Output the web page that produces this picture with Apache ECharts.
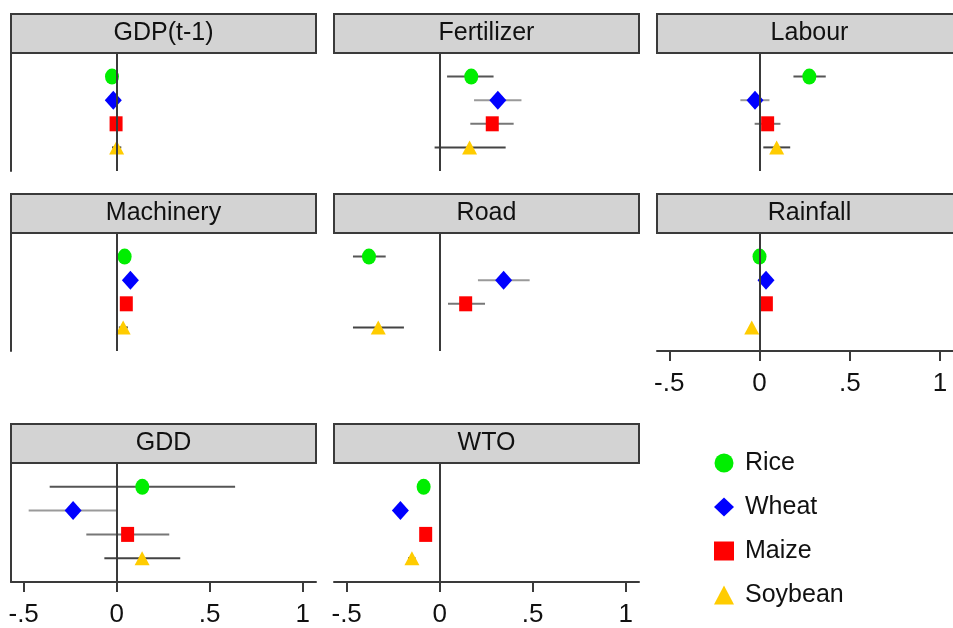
<!DOCTYPE html>
<html>
<head>
<meta charset="utf-8">
<title>Coefficient plot</title>
<script src="https://cdn.jsdelivr.net/npm/echarts@6/dist/echarts.min.js"></script>
<style>html,body{margin:0;background:#fff}#main{width:953px;height:628px}</style>
</head>
<body>
<div id="main"></div>
<script>
// panels in reading order, 3 per row
var panels = ['GDP(t-1)', 'Fertilizer', 'Labour', 'Machinery', 'Road', 'Rainfall', 'GDD', 'WTO'];
var crops = ['Rice', 'Wheat', 'Maize', 'Soybean'];

// point estimates and 95% bounds, one value per panel
var rice      = [-0.025, 0.17,  0.276,  0.043, -0.38,  0.0,    0.138, -0.086];
var riceLo    = [-0.035, 0.04,  0.188,  0.035, -0.466,-0.01,  -0.36,  -0.095];
var riceHi    = [-0.015, 0.29,  0.367,  0.05,  -0.29,  0.01,   0.637, -0.077];
var wheat     = [-0.018, 0.313,-0.025,  0.074,  0.344, 0.036, -0.234, -0.211];
var wheatLo   = [-0.03,  0.185,-0.106,  0.065,  0.206, 0.03,  -0.473, -0.22];
var wheatHi   = [-0.006, 0.44,  0.055,  0.083,  0.484, 0.045,  0.0,   -0.2];
var maize     = [-0.003, 0.283, 0.045,  0.052,  0.14,  0.038,  0.059, -0.075];
var maizeLo   = [-0.012, 0.165,-0.027,  0.045,  0.045, 0.03,  -0.163, -0.085];
var maizeHi   = [ 0.006, 0.398, 0.116,  0.06,   0.244, 0.046,  0.283, -0.065];
var soybean   = [ 0.0,   0.161, 0.095,  0.035, -0.33, -0.043,  0.137, -0.149];
var soybeanLo = [-0.025,-0.027, 0.021,  0.012, -0.466,-0.05,  -0.066, -0.17];
var soybeanHi = [ 0.025, 0.355, 0.17,   0.06,  -0.192,-0.036,  0.342, -0.13];

var xTicks = [-0.5, 0, 0.5, 1];

var est = [rice, wheat, maize, soybean];
var lo = [riceLo, wheatLo, maizeLo, soybeanLo];
var hi = [riceHi, wheatHi, maizeHi, soybeanHi];

var symbols = ['circle', 'diamond', 'rect', 'triangle'];
var symSizes = [[14, 16], [17, 19], [13, 15], [15, 14]];
var colors = ['#00ee00', '#0000ff', '#ff0000', '#ffcc00'];
var ciColors = ['#555555', '#9a9a9a', '#777777', '#444444'];

var colLeft = [11, 334, 657];
var rowTop = [53, 233, 463];
var rowH = [118, 118, 119];
var panelW = 305;
var headH = 39;
var axisColor = '#3a3a3a';
var font = '"Liberation Sans", Arial, sans-serif';

var grids = [], xAxes = [], yAxes = [], series = [], graphics = [];

panels.forEach(function (p, i) {
	var col = i % 3, row = Math.floor(i / 3);
	var showX = (i >= 5);
	grids.push({ left: colLeft[col], top: rowTop[row], width: panelW, height: rowH[row] });
	xAxes.push({
		gridIndex: i, type: 'value', min: -0.568, max: 1.072,
		axisLine: { show: showX, onZero: false, lineStyle: { color: axisColor, width: 2 } },
		axisTick: { show: showX, customValues: xTicks, length: 10, lineStyle: { color: axisColor, width: 2 } },
		axisLabel: {
			show: showX, customValues: xTicks, fontSize: 26, color: '#111', fontFamily: font, margin: 20,
			formatter: function (v) { return v === 0 ? '0' : String(v).replace('0.', '.'); }
		},
		splitLine: { show: false }
	});
	yAxes.push({
		gridIndex: i, type: 'value', min: 0, max: 5, inverse: true,
		axisLine: { show: col === 0, onZero: false, lineStyle: { color: axisColor, width: 2 } },
		axisTick: { show: false }, axisLabel: { show: false }, splitLine: { show: false }
	});

	// confidence intervals
	var ciData = crops.map(function (c, k) { return [lo[k][i], hi[k][i], k + 1, k]; });
	series.push({
		type: 'custom', xAxisIndex: i, yAxisIndex: i, silent: true,
		encode: { x: [0, 1], y: 2 },
		data: ciData,
		renderItem: function (params, api) {
			var a = api.coord([api.value(0), api.value(2)]);
			var b = api.coord([api.value(1), api.value(2)]);
			return { type: 'line', shape: { x1: a[0], y1: a[1], x2: b[0], y2: b[1] },
				style: { stroke: ciColors[api.value(3)], lineWidth: 2 } };
		},
		markLine: {
			silent: true, symbol: 'none', label: { show: false },
			lineStyle: { color: axisColor, width: 2, type: 'solid' },
			data: [{ xAxis: 0 }]
		}
	});

	crops.forEach(function (c, k) {
		series.push({
			type: 'scatter', name: c, xAxisIndex: i, yAxisIndex: i,
			symbol: symbols[k], symbolSize: symSizes[k],
			itemStyle: { color: colors[k], opacity: 1 },
			data: [[est[k][i], k + 1]]
		});
	});

	// panel header
	graphics.push({
		type: 'rect', shape: { x: colLeft[col], y: rowTop[row] - headH, width: panelW, height: headH },
		style: { fill: '#d3d3d3', stroke: axisColor, lineWidth: 2 }
	});
	graphics.push({
		type: 'text', x: colLeft[col] + panelW / 2, y: rowTop[row] - headH / 2,
		style: { text: p, fontSize: 25, fontFamily: font, fill: '#111', align: 'center', verticalAlign: 'middle' }
	});
});

var chart = echarts.init(document.getElementById('main'));
chart.setOption({
	animation: false,
	backgroundColor: '#ffffff',
	grid: grids,
	xAxis: xAxes,
	yAxis: yAxes,
	series: series,
	graphic: graphics,
	legend: {
		orient: 'vertical', left: 709, top: 445,
		itemWidth: 20, itemHeight: 19, itemGap: 18,
		selectedMode: false,
		textStyle: { fontSize: 25, lineHeight: 26, color: '#111', fontFamily: font, padding: [0, 0, 0, 6] },
		data: crops.map(function (c, k) { return { name: c, icon: symbols[k] }; })
	}
});
</script>
</body>
</html>
